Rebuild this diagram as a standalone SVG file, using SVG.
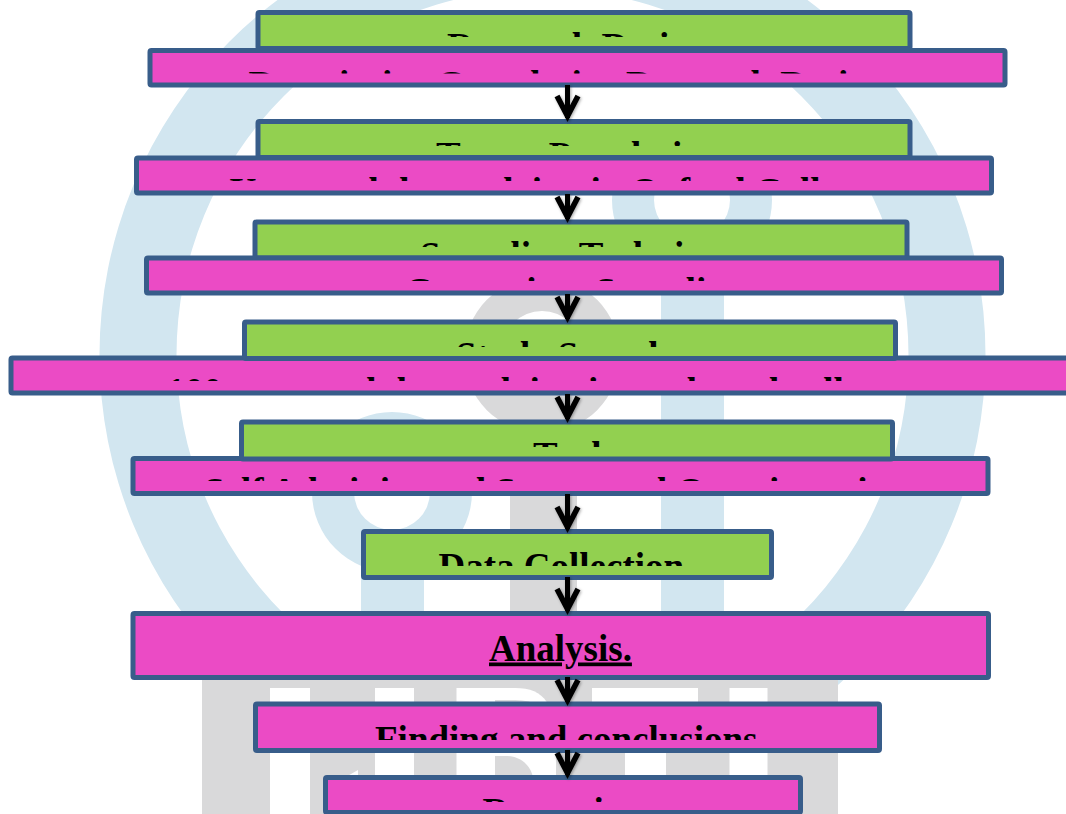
<svg xmlns="http://www.w3.org/2000/svg" width="1066" height="814" viewBox="0 0 1066 814">
<style>
.g{fill:#92D050;stroke:#385D8A;stroke-width:5}
.p{fill:#EB4BC5;stroke:#385D8A;stroke-width:5}
.t{font-family:"Liberation Serif","Times New Roman",serif;font-weight:700;font-size:37px;fill:#000}
.b{fill:#D2E6F0}
.y{fill:#D9D9DA}
.w{fill:#fff}
.c{stroke:#000;stroke-width:5;fill:none;marker-end:url(#arrow)}
</style>
<defs>
<marker id="arrow" markerUnits="userSpaceOnUse" markerWidth="24" markerHeight="30" refX="12" refY="24" orient="0" viewBox="0 0 24 30" overflow="visible">
<path d="M1.500 2 L12 22 L22.500 2" fill="none" stroke="#000" stroke-width="5.500"/>
</marker>
<filter id="sh" filterUnits="userSpaceOnUse" x="0" y="0" width="1066" height="814"><feDropShadow dx="1" dy="1" stdDeviation="1.500" flood-color="#000" flood-opacity=".35"/></filter>
<clipPath id="c1"><rect x="260" y="0" width="650" height="37"/></clipPath>
<clipPath id="c2"><rect x="150" y="53" width="855" height="20.500"/></clipPath>
<clipPath id="c3"><rect x="260" y="126" width="650" height="20"/></clipPath>
<clipPath id="c4"><rect x="136" y="161" width="855" height="20"/></clipPath>
<clipPath id="c5"><rect x="255" y="226" width="650" height="21"/></clipPath>
<clipPath id="c6"><rect x="146" y="261" width="855" height="20"/></clipPath>
<clipPath id="c7"><rect x="245" y="326" width="650" height="21"/></clipPath>
<clipPath id="c8"><rect x="12" y="361" width="1054" height="20"/></clipPath>
<clipPath id="c9"><rect x="242" y="426" width="650" height="21"/></clipPath>
<clipPath id="c10"><rect x="134" y="461" width="855" height="20"/></clipPath>
<clipPath id="c11"><rect x="365" y="535" width="405" height="31"/></clipPath>
<clipPath id="c12"><rect x="257" y="708" width="620" height="32"/></clipPath>
<clipPath id="c13"><rect x="327" y="781" width="472" height="21"/></clipPath>
</defs>
<rect width="1066" height="814" fill="#fff"/>
<g id="watermark">
<path class="b" fill-rule="evenodd" d="M99.500 355a443 443 0 1 0 886 0a443 443 0 1 0 -886 0ZM176.500 355a366 366 0 1 1 732 0a366 366 0 1 1 -732 0Z"/>
<path class="b" fill-rule="evenodd" d="M612 200a80 80 0 1 0 160 0a80 80 0 1 0 -160 0ZM654 200a38 38 0 1 1 76 0a38 38 0 1 1 -76 0Z"/>
<path class="b" fill-rule="evenodd" d="M312 492a80 80 0 1 0 160 0a80 80 0 1 0 -160 0ZM354 492a38 38 0 1 1 76 0a38 38 0 1 1 -76 0Z"/>
<rect class="b" x="661" y="240" width="63" height="450"/>
<rect class="b" x="361" y="550" width="63" height="140"/>
<path class="y" fill-rule="evenodd" d="M464 355a78 78 0 1 0 156 0a78 78 0 1 0 -156 0ZM502 351a40 40 0 1 1 80 0a40 40 0 1 1 -80 0Z"/>
<rect class="y" x="510" y="405" width="67" height="285"/>
<rect class="y" x="202" y="676" width="636" height="138"/>
<rect class="w" x="270" y="688" width="40" height="126"/>
<rect class="w" x="375" y="688" width="39" height="126"/>
<path class="w" d="M456.500 688H515C545 688 556 705 556 748V814H456.500Z"/>
<path class="y" d="M495 700H515Q530 700 540 706H495Z"/>
<path class="y" d="M495 756H505C520 756 531 765 533 778H495Z"/>
<path class="w" d="M592 688H698V725H666V814H625V725H592Z"/>
<rect class="w" x="729.500" y="688" width="38" height="126"/>
<path class="w" d="M344 778L358 770V778Z"/>
</g>
<g id="n1"><rect class="g" x="258" y="12.500" width="652" height="36" rx="1.500"/><text class="t" x="447" y="58.500" clip-path="url(#c1)">Research Design</text></g>
<g id="n2"><rect class="p" x="150" y="50.500" width="855" height="34.500" rx="1.500"/><text class="t" x="248.500" y="96.500" clip-path="url(#c2)">Descriptive Correlative Research Design</text></g>
<g id="n3"><rect class="g" x="258" y="121.500" width="652" height="36" rx="1.500"/><text class="t" x="436" y="167.500" clip-path="url(#c3)">Target Population</text></g>
<g id="n4"><rect class="p" x="136.500" y="158" width="855" height="35" rx="1.500"/><text class="t" x="229.500" y="204" clip-path="url(#c4)">Young adults studying in Oxford College</text></g>
<g id="n5"><rect class="g" x="255" y="222" width="652" height="36" rx="1.500"/><text class="t" x="420" y="268" clip-path="url(#c5)">Sampling Technique</text></g>
<g id="n6"><rect class="p" x="146.500" y="258" width="855" height="35" rx="1.500"/><text class="t" x="405" y="304" clip-path="url(#c6)">Convenient Sampling</text></g>
<g id="n8"><rect class="p" x="11" y="358" width="1060" height="35" rx="1.500"/><text class="t" x="166.500" y="404" clip-path="url(#c8)">100 young adults studying in a selected college</text></g>
<g id="n7"><rect class="g" x="244.500" y="322" width="651" height="36.500" rx="1.500"/><text class="t" x="456" y="368" clip-path="url(#c7)">Study Sample</text></g>
<g id="n10"><rect class="p" x="133" y="458.500" width="855" height="35" rx="1.500"/><text class="t" x="204" y="504" clip-path="url(#c10)">Self Administered Structured Questionnaire</text></g>
<g id="n9"><rect class="g" x="241.500" y="422" width="651" height="37" rx="1.500"/><text class="t" x="533" y="468" clip-path="url(#c9)">Tools</text></g>
<g id="n11"><rect class="g" x="363.500" y="531.500" width="408" height="46" rx="1.500"/><text class="t" x="438.500" y="578.500" clip-path="url(#c11)">Data Collection</text></g>
<g id="n12"><rect class="p" x="133" y="613.500" width="855.500" height="64" rx="1.500"/><text class="t" x="489" y="660.500" text-decoration="underline">Analysis.</text></g>
<g id="n13"><rect class="p" x="255.500" y="704" width="624" height="46.500" rx="1.500"/><text class="t" x="375" y="752" clip-path="url(#c12)">Finding and conclusions</text></g>
<g id="n14"><rect class="p" x="325.500" y="777.500" width="475" height="35" rx="1.500"/><text class="t" x="482.500" y="823.500" clip-path="url(#c13)">Reporting</text></g>
<g id="connectors" filter="url(#sh)">
<line class="c" x1="567.500" y1="85" x2="567.500" y2="118"/>
<line class="c" x1="567.500" y1="194" x2="567.500" y2="219"/>
<line class="c" x1="567.500" y1="294" x2="567.500" y2="319"/>
<line class="c" x1="567.500" y1="394" x2="567.500" y2="419"/>
<line class="c" x1="567.500" y1="494" x2="567.500" y2="529"/>
<line class="c" x1="567.500" y1="577" x2="567.500" y2="611"/>
<line class="c" x1="567.500" y1="677" x2="567.500" y2="702"/>
<line class="c" x1="567.500" y1="750" x2="567.500" y2="775"/>
</g>
</svg>
